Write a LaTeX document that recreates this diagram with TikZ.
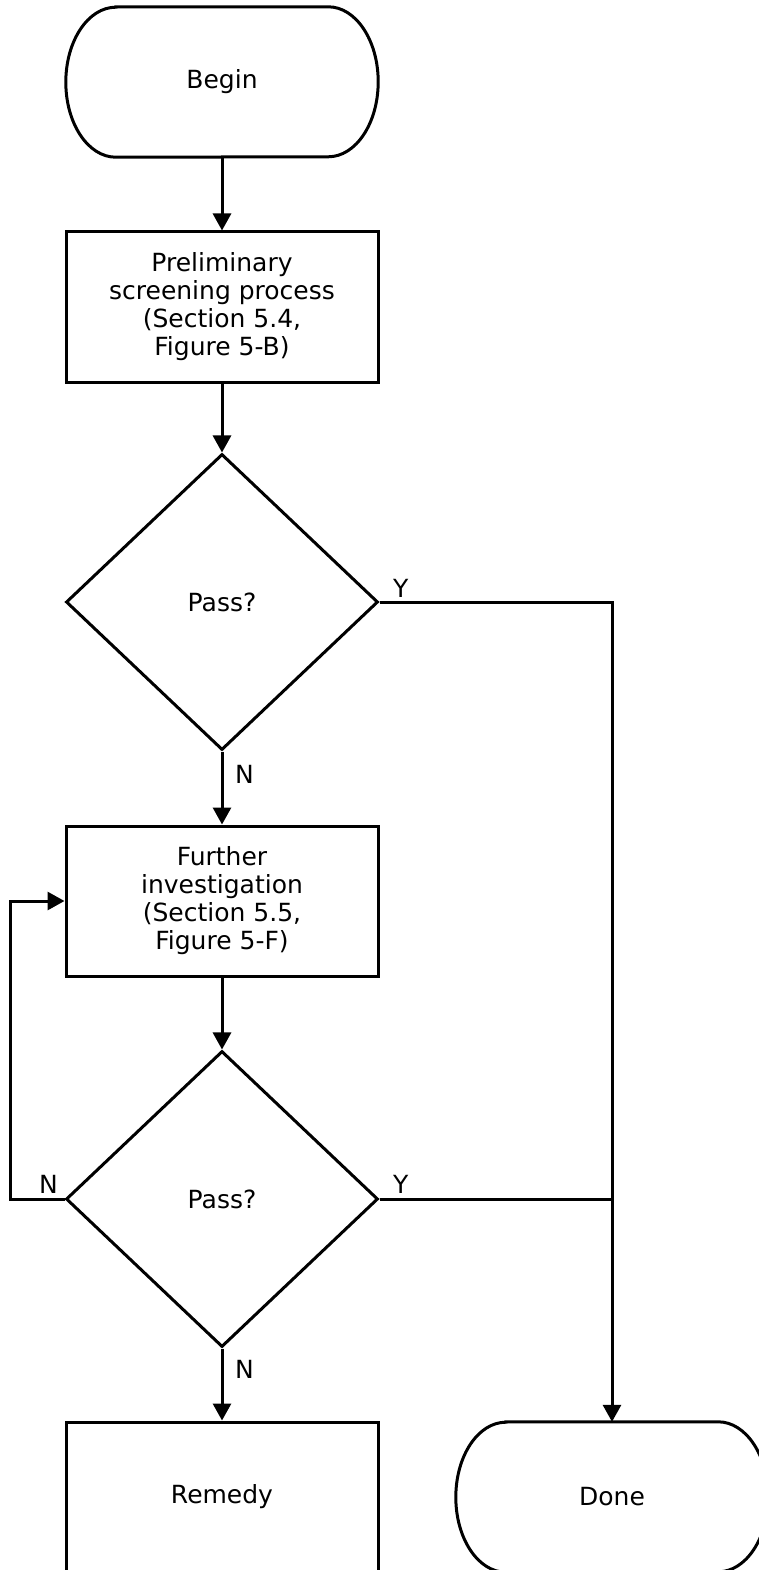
\documentclass[tikz,border=0pt]{standalone}
\usepackage{fontspec}
\setmainfont{DejaVu Sans}
\usetikzlibrary{shapes.geometric}
\usetikzlibrary{arrows.meta}

\tikzset{
  heavy/.style={line width=3pt},
  flow/.style={heavy, -{Triangle[length=17pt,width=18pt]}},
  procbox/.style={heavy, draw, rectangle, minimum width=312pt, minimum height=150pt, inner sep=0pt, align=center},
  decision/.style={heavy, draw, diamond, minimum width=312pt, minimum height=296pt, inner sep=0pt, align=center},
  terminal/.style={rectangle, minimum width=312pt, minimum height=150pt, inner sep=0pt, align=center},
  tag/.style={inner sep=0pt, anchor=base west}
}
\newcommand{\stadium}[1]{%
  \draw[heavy] ([xshift=50pt]#1.north west) -- ([xshift=-50pt]#1.north east)
    arc[start angle=90, end angle=-90, x radius=50pt, y radius=75pt]
    -- ([xshift=50pt]#1.south west)
    arc[start angle=270, end angle=90, x radius=50pt, y radius=75pt] -- cycle;}

\begin{document}
\begin{tikzpicture}[x=1pt, y=1pt, font=\fontsize{25pt}{28pt}\selectfont]
  \useasboundingbox (0,0) rectangle (759,-1570);

  % shapes
  \node[terminal] (begin) at (222,-82) {Begin};
  \stadium{begin}
  \node[procbox] (prelim) at (222,-307) {Preliminary\\screening process\\(Section 5.4,\\Figure 5-B)};
  \node[decision] (pass1) at (222,-602) {Pass?};
  \node[procbox] (further) at (222,-901) {Further\\investigation\\(Section 5.5,\\Figure 5-F)};
  \node[decision] (pass2) at (222,-1199) {Pass?};
  \node[procbox] (remedy) at (222,-1497) {Remedy};
  \node[terminal] (done) at (612,-1497) {Done};
  \stadium{done}

  % connectors
  \draw[flow] (begin) -- (prelim);
  \draw[flow] (prelim) -- (pass1);
  \draw[flow] (pass1) -- (further);
  \draw[flow] (further) -- (pass2);
  \draw[flow] (pass2) -- (remedy);
  \draw[flow] (pass1.east) -| (done.north);
  \coordinate (join) at (pass2.east -| done.north);
  \draw[heavy] (pass2.east) -- (join);
  \draw[flow] (pass2.west) -- ++(-54,0) |- (further.west);

  % branch labels
  \node[tag] (y1) at (393,-597) {Y};
  \node[tag] (n1) at (235,-783) {N};
  \node[tag] (y2) at (393,-1193) {Y};
  \node[tag] (n2) at (39,-1193) {N};
  \node[tag] (n3) at (235,-1378) {N};
\end{tikzpicture}
\end{document}
